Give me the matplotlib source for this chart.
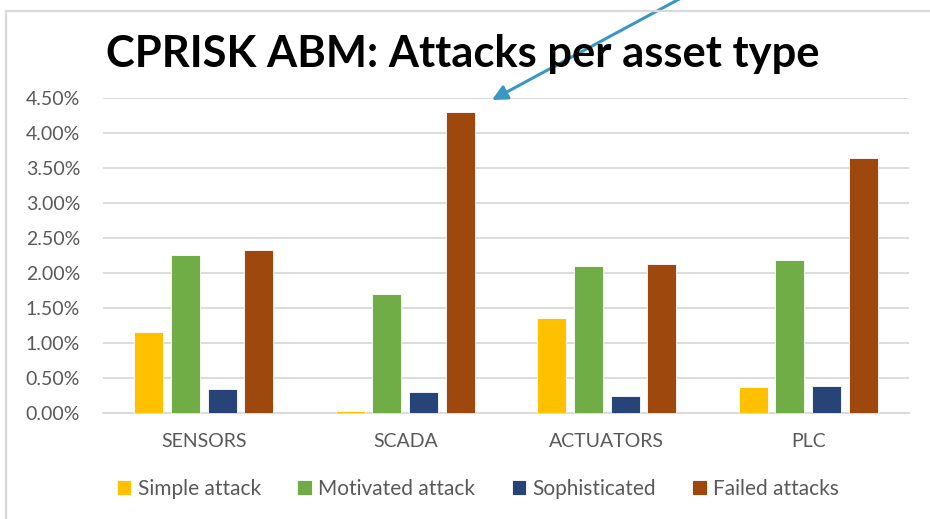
import matplotlib
matplotlib.use("Agg")
import matplotlib.pyplot as plt
import numpy as np
from matplotlib.patches import Rectangle
from matplotlib.ticker import PercentFormatter

# asset types and attack shares (fraction of runs)
assets = ["SENSORS", "SCADA", "ACTUATORS", "PLC"]
simple = [0.0116, 0.0004, 0.0136, 0.0037]
motivated = [0.0226, 0.0170, 0.0211, 0.0219]
sophisticated = [0.0035, 0.0031, 0.0025, 0.0039]
failed = [0.0234, 0.0430, 0.0214, 0.0365]

series_names = ["Simple attack", "Motivated attack", "Sophisticated", "Failed attacks"]
colors = ["#FFC000", "#70AD47", "#264478", "#9E480E"]

plt.rcParams["font.family"] = ["Lato", "DejaVu Sans"]

fig = plt.figure(figsize=(9.3, 5.19), dpi=100)
W, H = 930, 519

# light outer frame of the chart object
fig.patches.append(Rectangle((6 / W, -0.1), 1.2, 1 - 11 / H + 0.1,
                             transform=fig.transFigure, fill=False,
                             edgecolor="#d9d9d9", linewidth=1.6))

ax = fig.add_axes([103 / W, 1 - 413.3 / H, (909 - 103) / W, (413.3 - 98.3) / H])

x = np.arange(len(assets))
width = 0.144
step = 0.182
for i, (vals, name, c) in enumerate(zip([simple, motivated, sophisticated, failed],
                                        series_names, colors)):
    ax.bar(x + (i - 1.5) * step, vals, width, color=c, label=name,
           edgecolor="white", linewidth=0.6, zorder=3)

ax.set_xlim(-0.5, len(assets) - 0.5)
ax.set_ylim(0, 0.045)
ax.set_yticks(np.arange(0, 0.0451, 0.005))
ax.yaxis.set_major_formatter(PercentFormatter(1.0, decimals=2))
ax.set_xticks(x)
ax.set_xticklabels(assets)
ax.grid(axis="y", color="#d9d9d9", linewidth=1.3, zorder=0)
for s in ["top", "right", "left"]:
    ax.spines[s].set_visible(False)
ax.spines["bottom"].set_color("#d9d9d9")
ax.spines["bottom"].set_linewidth(1.3)
ax.tick_params(axis="both", length=0, labelsize=14, labelcolor="#595959")
ax.tick_params(axis="y", pad=16.5)
ax.tick_params(axis="x", pad=14)

fig.text(463 / W, 1 - 54 / H, "CPRISK ABM: Attacks per asset type",
         ha="center", va="center", fontsize=31.3, fontweight="bold", color="black")

fig.legend(loc="center", bbox_to_anchor=(478 / W, 1 - 489 / H), ncol=4,
           frameon=False, fontsize=15, handlelength=0.7, handleheight=0.7,
           handletextpad=0.3, columnspacing=1.75, labelcolor="#595959")

# callout arrow pointing at the SCADA failed-attack bar
ax.annotate("", xy=(492 / W, 1 - 100 / H), xycoords="figure fraction",
            xytext=(696 / W, 1 + 10 / H), textcoords="figure fraction",
            arrowprops=dict(arrowstyle="-|>,head_length=0.9,head_width=0.45",
                            color="#3A97C2", lw=2.2, shrinkA=0, shrinkB=0),
            annotation_clip=False)

fig.savefig("out.png", dpi=100)
